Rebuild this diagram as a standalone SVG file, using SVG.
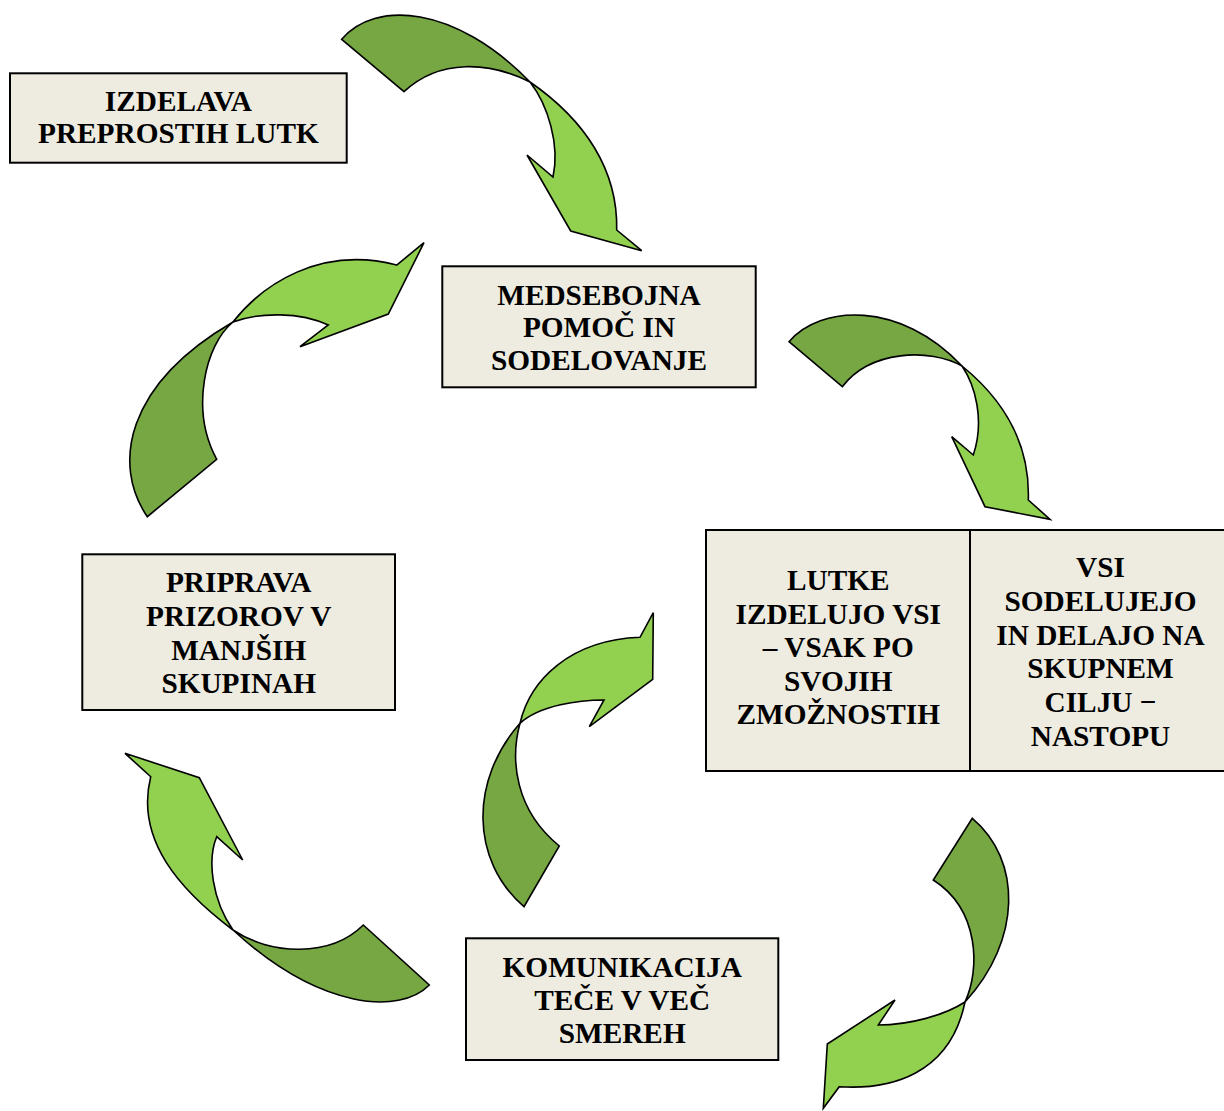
<svg xmlns="http://www.w3.org/2000/svg" width="1224" height="1111" viewBox="0 0 1224 1111">
<style>
.box{fill:#EEECE1;stroke:#000;stroke-width:2}
.dk{fill:#76A742;stroke:#000;stroke-width:1.6;stroke-linejoin:miter}
.lt{fill:#92D050;stroke:#000;stroke-width:1.6;stroke-linejoin:miter}
text{font-family:"Liberation Serif","Times New Roman",serif;font-weight:bold;font-size:29.3px;fill:#000;text-anchor:middle}
</style>
<rect width="1224" height="1111" fill="#fff"/>
<g id="connectors">
<g id="arrow1">
<path class="dk" d="M341.7,39.3 C375,0 455,5 530,82 C490,62 440,58 404,91.7 Z"/>
<path class="lt" d="M530,82 C548,105 560,145 553,177 L527,155 L570.7,231 L641.7,250.7 L616.7,230 C618,170 585,120 530,82 Z"/>
</g>
<g id="arrow2">
<path class="dk" d="M789,341.7 C820,305 900,300 962,366 C930,348 870,350 842.3,386.7 Z"/>
<path class="lt" d="M962,366 C975,385 985,420 973.3,455 L951.7,436.7 L985,506.7 L1050,519.3 L1028.3,500 C1030,450 1010,405 962,366 Z"/>
</g>
<g id="arrow3">
<path class="dk" d="M147.3,516.7 C112,465 125,385 233,322 C205,345 190,410 216.7,459.3 Z"/>
<path class="lt" d="M233,322 C262,285 320,245 396.7,265 L424,242.7 L388.3,314 L300,346.7 L328.3,325 C300,312 260,312 233,322 Z"/>
</g>
<g id="arrow4">
<path class="dk" d="M524,906.7 C470,860 470,780 520,723.3 C510,760 515,810 559.3,846 Z"/>
<path class="lt" d="M520,723.3 C530,680 570,640 640,637.3 L653.3,612.7 L652.7,679.3 L589.3,726.7 L604,700 C580,700 540,705 520,723.3 Z"/>
</g>
<g id="arrow5">
<path class="dk" d="M233,930 C270,955 330,958 363.3,925 L429.3,985 C400,1015 320,1010 233,930 Z"/>
<path class="lt" d="M233,930 C180,890 135,840 150.7,776.7 L125,753.3 L199.3,777.7 L242.7,860 L216.7,836.7 C207,860 212,900 233,930 Z"/>
</g>
<g id="arrow6">
<path class="dk" d="M972.3,818.3 C1022,860 1022,940 965,1002 C980,970 980,910 933.3,880 Z"/>
<path class="lt" d="M965,1002 C945,1015 910,1025 878.3,1025 L895,1000 L827.3,1044 L823.3,1108.3 L839.3,1086.7 C890,1090 950,1075 965,1002 Z"/>
</g>
</g>
<g id="node-izdelava">
<rect class="box" x="10" y="73.3" width="336.7" height="89.4"/>
<text x="178.4" y="110.7">IZDELAVA</text>
<text x="178.4" y="142.7">PREPROSTIH LUTK</text>
</g>
<g id="node-medsebojna">
<rect class="box" x="442.3" y="266.3" width="313.4" height="121"/>
<text x="599" y="304.5">MEDSEBOJNA</text>
<text x="599" y="337">POMOČ IN</text>
<text x="599" y="369.5">SODELOVANJE</text>
</g>
<g id="node-lutke">
<rect class="box" x="706" y="530" width="264" height="241"/>
<text x="838.3" y="590">LUTKE</text>
<text x="838.3" y="623.5">IZDELUJO VSI</text>
<text x="838.3" y="657">– VSAK PO</text>
<text x="838.3" y="690.5">SVOJIH</text>
<text x="838.3" y="724">ZMOŽNOSTIH</text>
</g>
<g id="node-vsi">
<rect class="box" x="970" y="530" width="262" height="241"/>
<text x="1100.5" y="577">VSI</text>
<text x="1100.5" y="610.8">SODELUJEJO</text>
<text x="1100.5" y="644.6">IN DELAJO NA</text>
<text x="1100.5" y="678.4">SKUPNEM</text>
<text x="1100.5" y="712.2">CILJU −</text>
<text x="1100.5" y="746">NASTOPU</text>
</g>
<g id="node-priprava">
<rect class="box" x="82.3" y="554.3" width="312.7" height="155.7"/>
<text x="238.7" y="592">PRIPRAVA</text>
<text x="238.7" y="625.8">PRIZOROV V</text>
<text x="238.7" y="659.5">MANJŠIH</text>
<text x="238.7" y="693.3">SKUPINAH</text>
</g>
<g id="node-komunikacija">
<rect class="box" x="466" y="938.3" width="312.3" height="121.7"/>
<text x="622.2" y="976.7">KOMUNIKACIJA</text>
<text x="622.2" y="1010">TEČE V VEČ</text>
<text x="622.2" y="1042.7">SMEREH</text>
</g>
</svg>
